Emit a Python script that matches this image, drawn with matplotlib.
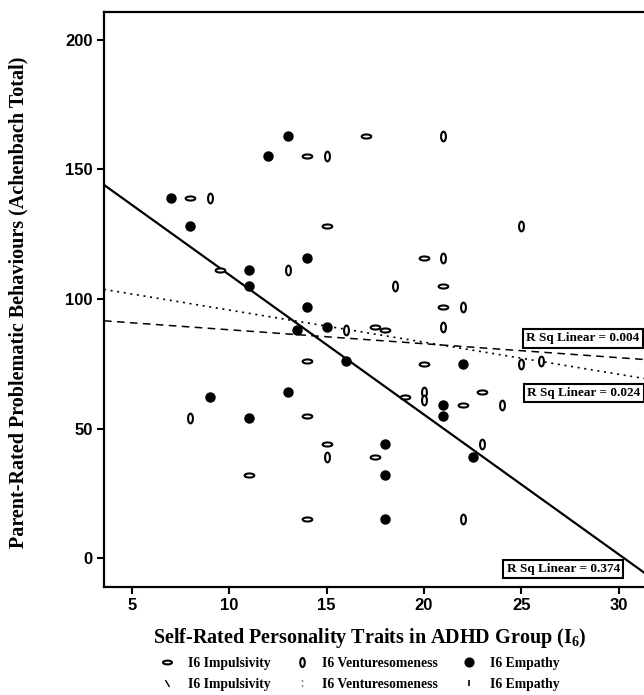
import numpy as np
import matplotlib
matplotlib.use("Agg")
import matplotlib.pyplot as plt
from matplotlib.path import Path
from matplotlib.lines import Line2D

# ---- data ----
emp_x = [7, 8, 9, 11, 11, 11, 12, 13, 13, 13.5, 14, 14, 15, 16, 18, 18, 18, 21, 21, 22, 22.5]
emp_y = [139, 128, 62, 111, 105, 54, 155, 163, 64, 88, 116, 97, 89, 76, 44, 32, 15, 59, 55, 75, 39]

imp_x = [8, 9.5, 11, 14, 14, 14, 14, 15, 15, 17, 17.5, 18, 17.5, 19, 20, 20, 21, 21, 22, 23]
imp_y = [139, 111, 32, 155, 76, 55, 15, 128, 44, 163, 89, 88, 39, 62, 116, 75, 105, 97, 59, 64]

ven_x = [8, 9, 13, 15, 15, 16, 18.5, 20, 20, 21, 21, 21, 22, 22, 23, 24, 25, 25, 26]
ven_y = [54, 139, 111, 155, 39, 88, 105, 64, 61, 163, 116, 89, 97, 15, 44, 59, 128, 75, 76]

# fitted lines (intercept, slope) and R squared
fit_imp = (93.5, -0.538)
fit_ven = (108.1, -1.238)
fit_emp = (163.2, -5.39)
rsq_labels = ["R Sq Linear = 0.004", "R Sq Linear = 0.024", "R Sq Linear = 0.374"]
rsq_pos = [(28.15, 84.8), (28.2, 63.8), (27.15, -4.1)]

x_ticks = [5, 10, 15, 20, 25, 30]
y_ticks = [0, 50, 100, 150, 200]

plt.rcParams["mathtext.fontset"] = "custom"
plt.rcParams["mathtext.rm"] = "Liberation Serif:bold"
plt.rcParams["mathtext.it"] = "Liberation Serif:bold"

# marker shapes
t = np.linspace(0, 2 * np.pi, 40)
horiz_ell = Path(np.column_stack([np.cos(t), 0.42 * np.sin(t)]))
vert_ell = Path(np.column_stack([0.5 * np.cos(t), np.sin(t)]))
backslash = Path([(-0.3, 0.5), (0.3, -0.5)], [Path.MOVETO, Path.LINETO])
colon = Path([(0, 0.5), (0, 0.3), (0, -0.3), (0, -0.5)],
             [Path.MOVETO, Path.LINETO, Path.MOVETO, Path.LINETO])

fig = plt.figure(figsize=(6.44, 6.95), dpi=100)
ax = fig.add_axes([104 / 644, 1 - 587 / 695, 540 / 644, 575 / 695])

xlim = (3.56, 31.3)
ax.set_xlim(*xlim)
ax.set_ylim(-11.1, 210.7)

xs = np.array(xlim)
ax.plot(xs, fit_imp[0] + fit_imp[1] * xs, color="black", lw=1.1, ls=(0, (5, 3.5)))
ax.plot(xs, fit_ven[0] + fit_ven[1] * xs, color="black", lw=1.2, ls=(0, (1.2, 2.8)))
ax.plot(xs, fit_emp[0] + fit_emp[1] * xs, color="black", lw=1.6)

ax.plot(imp_x, imp_y, ls="none", marker=horiz_ell, ms=7, mfc="white", mec="black", mew=1.5)
ax.plot(ven_x, ven_y, ls="none", marker=vert_ell, ms=7, mfc="white", mec="black", mew=1.5)
ax.plot(emp_x, emp_y, ls="none", marker="o", ms=6.5, mfc="black", mec="black")

for lab, (px, py) in zip(rsq_labels, rsq_pos):
    ax.text(px, py, lab, ha="center", va="center", fontsize=9.5, fontweight="bold",
            family="Liberation Serif", clip_on=False,
            bbox=dict(boxstyle="square,pad=0.25", fc="white", ec="black", lw=1.5))

ax.set_xticks(x_ticks)
ax.set_yticks(y_ticks)
for lab in ax.get_xticklabels() + ax.get_yticklabels():
    lab.set_fontfamily("Liberation Sans")
    lab.set_fontweight("bold")
    lab.set_fontsize(12)
ax.tick_params(direction="out", length=5, width=1.5, pad=3)
ax.spines["right"].set_visible(False)
for s in ["left", "bottom", "top"]:
    ax.spines[s].set_linewidth(1.6)

fig.text(18 / 644, 1 - 302 / 695, "Parent-Rated Problematic Behaviours (Achenbach Total)",
         rotation=90, ha="center", va="center", fontsize=14.5, fontweight="bold",
         family="Liberation Serif")
fig.text(370 / 644, 1 - 643 / 695, r"Self-Rated Personality Traits in ADHD Group $\mathrm{(I_6)}$",
         ha="center", va="baseline", fontsize=14.5, fontweight="bold",
         family="Liberation Serif")

handles = [
    Line2D([], [], ls="none", marker=horiz_ell, ms=6.5, mfc="white", mec="black", mew=1.5),
    Line2D([], [], ls="none", marker=backslash, ms=5, mec="black", mew=1.0),
    Line2D([], [], ls="none", marker=vert_ell, ms=6.5, mfc="white", mec="black", mew=1.5),
    Line2D([], [], ls="none", marker=colon, ms=5, mec="black", mew=1.0),
    Line2D([], [], ls="none", marker="o", ms=6.3, mfc="black", mec="black"),
    Line2D([], [], ls="none", marker="|", ms=5, mec="black", mew=1.2),
]
labels = ["I6 Impulsivity", "I6 Impulsivity", "I6 Venturesomeness", "I6 Venturesomeness",
          "I6 Empathy", "I6 Empathy"]
fig.legend(handles, labels, ncol=3, loc="center", bbox_to_anchor=(360 / 644, 1 - 674 / 695),
           frameon=False, prop=dict(family="Liberation Serif", weight="bold", size=9.8),
           handlelength=1.0, handletextpad=1.0, columnspacing=1.8, labelspacing=0.55,
           borderpad=0)

fig.savefig("out.png", dpi=100)
